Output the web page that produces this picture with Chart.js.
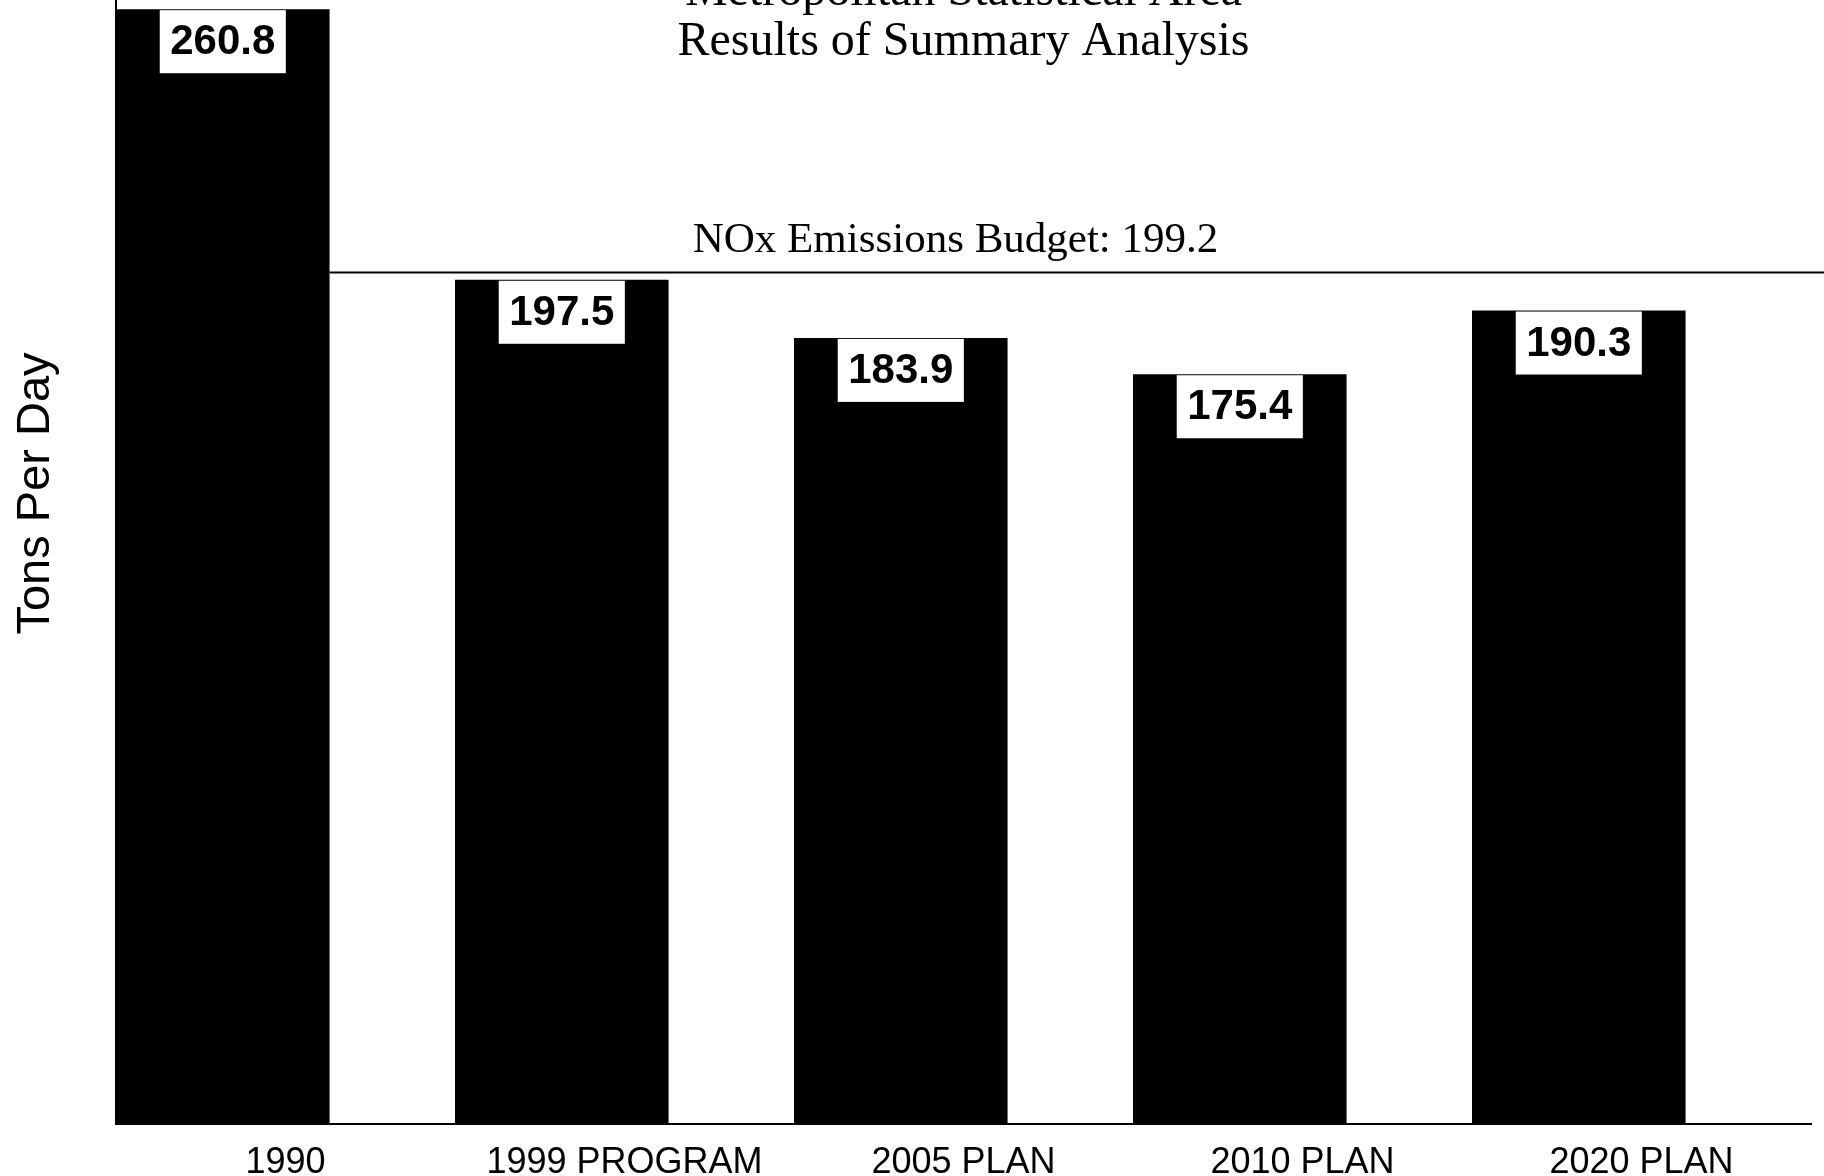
<!DOCTYPE html>
<html>
<head>
<meta charset="utf-8">
<title>NOx Emissions - Results of Summary Analysis</title>
<script src="https://cdn.jsdelivr.net/npm/chart.js@4.4.1/dist/chart.umd.min.js"></script>
<style>
  html, body { margin: 0; padding: 0; background: #fff; overflow: hidden; }
  /* the top of the original page is cut off, so the canvas sticks out above the window */
  #wrap { position: absolute; left: 0; top: -200px; }
</style>
</head>
<body>
<div id="wrap"><canvas id="noxChart" width="1824" height="1400"></canvas></div>
<script>
/**
 * NOx emissions (tons per day) per analysis year, against the budget.
 */

const CATEGORIES = ["1990", "1999 PROGRAM", "2005 PLAN", "2010 PLAN", "2020 PLAN"];
const NOX_TONS = [260.8, 197.5, 183.9, 175.4, 190.3];
const NOX_BUDGET = 199.2;

const TITLE_LINES = ["Metropolitan Statistical Area", "Results of Summary Analysis"];
const BUDGET_LABEL = "NOx Emissions Budget: " + NOX_BUDGET.toFixed(1);
const Y_TITLE = "Tons Per Day";

const TOP_CUT = 200;     // canvas pixels hidden above the window
const Y_MAX = 295;
const BAR_SHARE = 0.63;  // bars sit at the left of their category slot

const SERIF = "'Liberation Serif', 'Times New Roman', serif";
const SANS = "'Liberation Sans', Arial, Helvetica, sans-serif";

/**
 * Two title lines drawn inside the plot area (the first one is cut off).
 */
const titlePlugin = {
  id: "insideTitle",
  afterDraw(chart) {
    const CTX = chart.ctx;
    const AREA = chart.chartArea;

    CTX.save();
    CTX.font = "48px " + SERIF;
    CTX.fillStyle = "#000";
    CTX.textAlign = "center";
    CTX.textBaseline = "alphabetic";
    TITLE_LINES.forEach((line, i) => {
      CTX.fillText(line, (AREA.left + AREA.right) / 2, TOP_CUT + 5 + i * 50);
    });
    CTX.restore();
  }
};

/**
 * Budget line from the right edge of the first bar, with its label above.
 */
const budgetPlugin = {
  id: "budgetLine",
  afterDatasetsDraw(chart) {
    const CTX = chart.ctx;
    const AREA = chart.chartArea;
    const Y = chart.scales.y.getPixelForValue(NOX_BUDGET);
    const FIRST_BAR = chart.getDatasetMeta(0).data[0];
    const START_X = FIRST_BAR.x + FIRST_BAR.width / 2;

    CTX.save();
    CTX.strokeStyle = "#000";
    CTX.lineWidth = 2;
    CTX.beginPath();
    CTX.moveTo(START_X, Y);
    CTX.lineTo(chart.width, Y);
    CTX.stroke();

    CTX.font = "43px " + SERIF;
    CTX.fillStyle = "#000";
    CTX.textAlign = "center";
    CTX.textBaseline = "alphabetic";
    CTX.fillText(BUDGET_LABEL, (AREA.left + AREA.right) / 2 - 8, Y - 21);
    CTX.restore();
  }
};

/**
 * White value boxes hanging from the top of each bar.
 */
const valueBoxPlugin = {
  id: "valueBoxes",
  afterDatasetsDraw(chart) {
    const CTX = chart.ctx;
    const META = chart.getDatasetMeta(0);

    CTX.save();
    CTX.font = "bold 42px " + SANS;
    CTX.textAlign = "center";
    CTX.textBaseline = "middle";
    META.data.forEach((bar, i) => {
      const TEXT = NOX_TONS[i].toFixed(1);
      const BOX_W = CTX.measureText(TEXT).width + 21;
      const BOX_H = 63;
      const TOP = bar.y + 1;

      CTX.fillStyle = "#fff";
      CTX.fillRect(bar.x - BOX_W / 2, TOP, BOX_W, BOX_H);
      CTX.fillStyle = "#000";
      CTX.fillText(TEXT, bar.x, TOP + BOX_H / 2 + 1);
    });
    CTX.restore();
  }
};

new Chart(document.getElementById("noxChart"), {
  type: "bar",
  data: {
    labels: CATEGORIES,
    datasets: [{
      label: "NOx Emissions (tons/day)",
      data: NOX_TONS.map((value, i) => ({ x: i + BAR_SHARE / 2, y: value })),
      xAxisID: "xBar",
      backgroundColor: "#000",
      borderWidth: 0,
      categoryPercentage: 1,
      barPercentage: BAR_SHARE
    }]
  },
  options: {
    responsive: false,
    animation: false,
    devicePixelRatio: 1,
    layout: {
      padding: { top: 63, right: 13, bottom: 0, left: 0 }
    },
    plugins: {
      legend: { display: false },
      tooltip: { enabled: false }
    },
    scales: {
      x: {
        type: "category",
        position: "bottom",
        offset: true,
        grid: { display: false },
        border: { display: true, color: "#000", width: 2 },
        ticks: {
          color: "#000",
          padding: 9,
          autoSkip: false,
          maxRotation: 0,
          font: { family: SANS, size: 36 }
        },
        afterFit: (scale) => { scale.height = 76; }
      },
      xBar: {
        type: "linear",
        axis: "x",
        position: "bottom",
        display: false,
        offset: false,
        min: 0,
        max: CATEGORIES.length,
        ticks: { stepSize: 1 }
      },
      y: {
        min: 0,
        max: Y_MAX,
        grid: { display: false },
        border: { display: true, color: "#000", width: 2 },
        ticks: { display: false },
        title: {
          display: true,
          text: Y_TITLE,
          color: "#000",
          font: { family: SANS, size: 47 },
          padding: { top: 8, bottom: 0 }
        },
        afterFit: (scale) => { scale.width = 116; }
      }
    }
  },
  plugins: [titlePlugin, budgetPlugin, valueBoxPlugin]
});
</script>
</body>
</html>
